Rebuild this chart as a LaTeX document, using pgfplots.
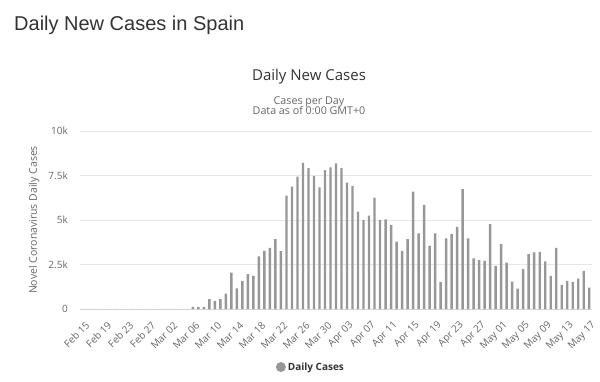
\documentclass[border=0pt]{standalone}
\usepackage{fontspec}
\usepackage{pgfplots}
\usepackage{pgfplotstable}
\pgfplotsset{compat=1.18}
\setmainfont{Open Sans}
\newfontfamily\titlefont{Liberation Sans}
\definecolor{barc}{HTML}{979797}
\definecolor{gridc}{HTML}{E6E6E6}
\definecolor{basec}{HTML}{CCD6EB}
\definecolor{txt}{HTML}{666666}
\definecolor{ttl}{HTML}{333333}

\pgfplotstableread{
idx val
0 0
1 0
2 0
3 0
4 0
5 0
6 0
7 0
8 0
9 0
10 0
11 0
12 0
13 0
14 0
15 0
16 0
17 0
18 0
19 0
20 120
21 110
22 120
23 560
24 450
25 560
26 865
27 2050
28 1165
29 1580
30 1955
31 1860
32 2950
33 3270
34 3440
35 3930
36 3250
37 6370
38 6880
39 7440
40 8210
41 7910
42 7480
43 6840
44 7800
45 7950
46 8180
47 7910
48 7105
49 6920
50 5470
51 5000
52 5240
53 6260
54 5000
55 5040
56 4720
57 3780
58 3270
59 3930
60 6600
61 4250
62 5850
63 3550
64 4250
65 1520
66 3970
67 4210
68 4620
69 6730
70 3970
71 2840
72 2740
73 2710
74 4770
75 2420
76 3650
77 2610
78 1540
79 1150
80 2240
81 3080
82 3180
83 3210
84 2670
85 1860
86 3440
87 1350
88 1580
89 1520
90 1710
91 2140
92 1200
}\dailydata

\begin{document}
\begin{tikzpicture}[x=1pt,y=1pt]
\begin{axis}[
  scale only axis, width=512pt, height=178pt,
  ymin=0, ymax=10000, xmin=-0.5, xmax=92.5,
  ybar, bar width=2.4pt,
  axis x line*=bottom, axis y line*=left,
  x axis line style={draw=basec, line width=1pt, -},
  y axis line style={draw=none},
  major tick length=0pt,
  ymajorgrids, major grid style={draw=gridc, line width=1pt},
  scaled y ticks=false,
  ytick={0,2500,5000,7500,10000},
  yticklabels={0,2.5k,5k,7.5k,10k},
  yticklabel style={inner sep=0pt, anchor=east, xshift=-12pt, text=txt, font=\fontsize{10}{12}\selectfont},
  xtick={0,4,...,92},
  xticklabels={Feb 15,Feb 19,Feb 23,Feb 27,Mar 02,Mar 06,Mar 10,Mar 14,Mar 18,Mar 22,Mar 26,Mar 30,Apr 03,Apr 07,Apr 11,Apr 15,Apr 19,Apr 23,Apr 27,May 01,May 05,May 09,May 13,May 17},
  xticklabel style={rotate=45, anchor=east, inner sep=0pt, yshift=-14pt, xshift=-7pt, text=txt, font=\fontsize{10}{12}\selectfont},
  ylabel={Novel Coronavirus Daily Cases},
  every axis y label/.append style={at={(axis description cs:-0.0898,0.5)}, anchor=center, text=txt, font=\fontsize{10.5}{12}\selectfont},
  legend style={at={(axis description cs:0.451,-0.326)}, anchor=center, draw=none, fill=none, font=\bfseries\fontsize{10}{12}\selectfont, text=ttl},
  legend image code/.code={\fill[barc] (-1pt,0pt) circle (5pt);},
]
\addplot[fill=barc, draw=none] table[x=idx, y=val] {\dailydata};
\addlegendentry{Daily Cases}
\coordinate (bl) at (rel axis cs:0,0);
\end{axis}
\pgfresetboundingbox
\begin{scope}[shift={(bl)}]
\path[use as bounding box] (-80,-72) rectangle (520,309);
\node[anchor=base west, inner sep=0, text=ttl, font=\titlefont\fontsize{20}{24}\selectfont] at (-66,278) {Daily New Cases in Spain};
\node[anchor=base, inner sep=0, text=ttl, font=\fontsize{15}{18}\selectfont] at (229,229) {Daily New Cases};
\node[anchor=base, inner sep=0, text=txt, font=\fontsize{10.7}{12}\selectfont] at (229,205) {Cases per Day};
\node[anchor=base, inner sep=0, text=txt, font=\fontsize{10.7}{12}\selectfont] at (229,195) {Data as of 0:00 GMT+0};
\end{scope}
\end{tikzpicture}
\end{document}
